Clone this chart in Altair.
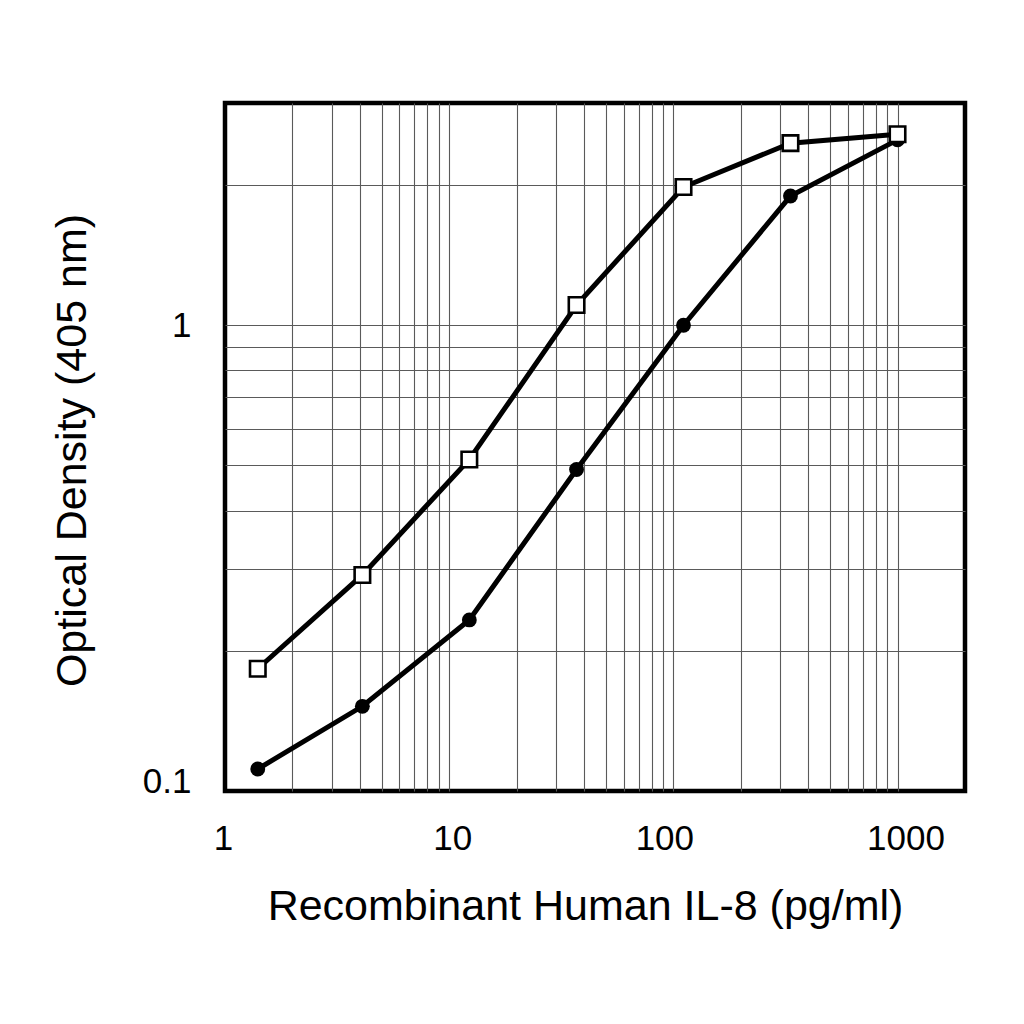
import altair as alt
import pandas as pd

# Data
conc = [1.4, 4.1, 12.3, 37.0, 111.0, 333.0, 1000.0]
od_open = [0.183, 0.291, 0.515, 1.105, 1.98, 2.46, 2.57]
od_filled = [0.1115, 0.152, 0.233, 0.49, 1.0, 1.894, 2.50]

x_grid = [1, 2, 3, 4, 5, 6, 7, 8, 9,
          10, 20, 30, 40, 50, 60, 70, 80, 90,
          100, 200, 300, 400, 500, 600, 700, 800, 900, 1000]
x_labels = [1, 10, 100, 1000]
y_grid = [0.1, 0.2, 0.3, 0.4, 0.5, 0.6, 0.7, 0.8, 0.9, 1, 2]
y_labels = [0.1, 1]

x_title = "Recombinant Human IL-8 (pg/ml)"
y_title = "Optical Density (405 nm)"

df_open = pd.DataFrame({"conc": conc, "od": od_open})
df_filled = pd.DataFrame({"conc": conc, "od": od_filled})

FONT = "Liberation Sans"
GRID = "#5a5a5a"

x_label_expr = "indexof(" + str(x_labels) + ", datum.value) >= 0 ? format(datum.value, '~g') : ''"
y_label_expr = "indexof(" + str(y_labels) + ", datum.value) >= 0 ? format(datum.value, '~g') : ''"

x_axis = alt.Axis(
    values=x_grid,
    labelExpr=x_label_expr,
    ticks=False,
    tickSize=0,
    domain=False,
    grid=True,
    gridColor=GRID,
    gridWidth=1.1,
    gridOpacity={"condition": {"test": "datum.value <= 1", "value": 0}, "value": 1},
    labelFont=FONT,
    labelFontSize=35,
    labelColor="black",
    labelPadding=30,
    labelOverlap=False,
    labelFlush=False,
    labelBound=False,
    labelOffset={"condition": [
        {"test": "datum.value == 100", "value": -9},
        {"test": "datum.value == 1000", "value": 8},
        {"test": "datum.value == 10", "value": 3}],
        "value": -2},
    title=x_title,
    titleFont=FONT,
    titleFontSize=43,
    titleFontWeight="normal",
    titleColor="black",
    titleBaseline="alphabetic",
    titleAlign="center",
    titleX=360,
    titleY=128,
)

y_axis = alt.Axis(
    values=y_grid,
    labelExpr=y_label_expr,
    ticks=False,
    tickSize=0,
    domain=False,
    grid=True,
    gridColor=GRID,
    gridWidth=1.1,
    gridOpacity={"condition": {"test": "datum.value <= 0.1", "value": 0}, "value": 1},
    labelFont=FONT,
    labelFontSize=35,
    labelColor="black",
    labelPadding=34,
    labelOverlap=False,
    labelFlush=False,
    labelBound=False,
    labelOffset={"condition": {"test": "datum.value == 0.1", "value": -10}, "value": 0},
    title=y_title,
    titleFont=FONT,
    titleFontSize=43,
    titleFontWeight="normal",
    titleColor="black",
    titleBaseline="alphabetic",
    titleAlign="center",
    titleAngle=270,
    titleX=-140,
    titleY=347,
)

x_enc = alt.X("conc:Q", scale=alt.Scale(type="log", domain=[1, 2000], nice=False), axis=x_axis)
y_enc = alt.Y("od:Q", scale=alt.Scale(type="log", domain=[0.1, 3], nice=False), axis=y_axis)

filled_line = alt.Chart(df_filled).mark_line(color="black", strokeWidth=5).encode(x=x_enc, y=y_enc)
filled_pts = alt.Chart(df_filled).mark_point(
    shape="circle", filled=True, color="black", size=220, opacity=1
).encode(x=x_enc, y=y_enc)

open_line = alt.Chart(df_open).mark_line(color="black", strokeWidth=5).encode(x=x_enc, y=y_enc)
open_pts = alt.Chart(df_open).mark_point(
    shape="square", filled=True, fill="white", stroke="black", strokeWidth=2.6, size=240, opacity=1
).encode(x=x_enc, y=y_enc)

chart = alt.layer(filled_line, filled_pts, open_line, open_pts).properties(
    width=740,
    height=688,
    autosize=alt.AutoSizeParams(type="none"),
    padding={"left": 217, "top": 95, "right": 40, "bottom": 200},
    background="white",
).configure_view(stroke="black", strokeWidth=4.5)

chart.save("out.html", embed_options={"renderer": "svg", "actions": False})
